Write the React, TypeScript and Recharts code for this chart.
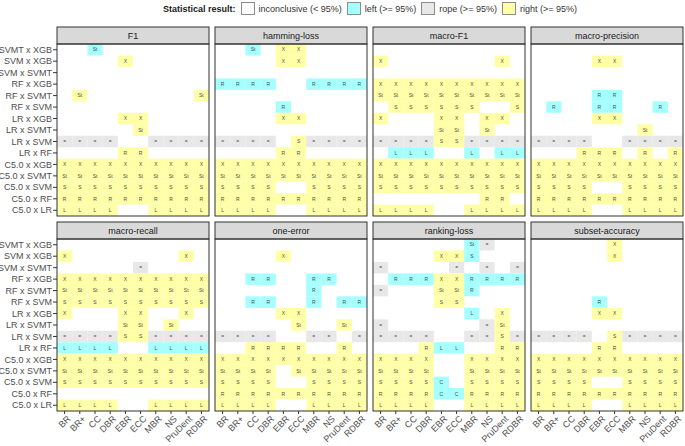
import React from 'react';
import { ScatterChart, Scatter, XAxis, YAxis } from 'recharts';

const methods = ['BR', 'BR+', 'CC', 'DBR', 'EBR', 'ECC', 'MBR', 'NS', 'PruDent', 'RDBR'];
const comparisons = [
  'SVMT x XGB', 'SVM x XGB', 'SVM x SVMT', 'RF x XGB', 'RF x SVMT', 'RF x SVM',
  'LR x XGB', 'LR x SVMT', 'LR x SVM', 'LR x RF',
  'C5.0 x XGB', 'C5.0 x SVMT', 'C5.0 x SVM', 'C5.0 x RF', 'C5.0 x LR',
];
const metricNames = ['F1', 'hamming-loss', 'macro-F1', 'macro-precision', 'macro-recall', 'one-error', 'ranking-loss', 'subset-accuracy'];

// '.' inconclusive, 'l' left better, '=' rope, 'r' right better (one string per comparison, one char per method)
const f1Results = [
  '..l.......', '....r.....', '..........', '..........', '.r.......r', '..........',
  '....rr....', '.....r....', '====..====', '....rr....',
  'rrrrrrrrrr', 'rrrrrrrrrr', 'rrrrrrrrrr', 'rrrrrrrrrr', 'rrrr..rrrr',
];
const hammingLossResults = [
  '..l.rr....', '....rr....', '..........', 'llll..llll', '..........', '....l.....',
  '....rr....', '..........', '====.r====', '....rr....',
  'rrrrrrrrrr', 'rrrrrrrrrr', 'rrrr..rrrr', 'rrrrrrrrrr', 'rrrr..rrrr',
];
const macroF1Results = [
  '..........', 'r.......r.', '..........', 'rrrrrrrrrr', 'rrrrrrrrrr', '.rrrrrr..r',
  'r...rr.rr.', '....rr.r..', '====rr====', '.lll..l.ll',
  'rrrrrrrrrr', 'rrrrrrrrrr', 'rrrrrrrrrr', '.......rr.', 'rrrr..rrrr',
];
const macroPrecisionResults = [
  '..........', '....rr....', '..........', '..........', '....ll....', '.l..ll..l.',
  '....rr....', '.......r..', '====..====', '...rrr.r.r',
  'rrrrrrrrrr', 'rrrrrrrrrr', 'rrrr..rrrr', 'rrrrrrrrrr', 'rrrr..rrrr',
];
const macroRecallResults = [
  '..........', 'r.......r.', '.....=....', 'rrrrrrrrrr', 'rrrrrrrrrr', 'rrrrrrrrrr',
  'r...rr..r.', '....rr.r..', '====rr====', 'llll..llll',
  'rrrrrrrrrr', 'rrrrrrrrrr', 'rrrrrrrrrr', '..........', 'rrrr..rrrr',
];
const oneErrorResults = [
  '..........', '....r.....', '..........', '..ll..ll..', '......l...', '..ll..l.ll',
  '....rr....', '.....r..r.', '====..==.=', '..rrrr..r.',
  'rrrrrrrrrr', 'rrrr.rrrrr', 'rrrr..rrrr', 'rrrrrrrrrr', 'rrrr..rrrr',
];
const rankingLossResults = [
  '......l=..', '....rrl...', '=....=.=.=', '.lllrrllll', '=...rrl...', '....rr....',
  '......l.r.', '=......=r.', '====..==r=', '...rll..rr',
  'rrrr..rrrr', 'rrrr..rrrr', 'rrrrl.rrrr', 'rrrrllrrrr', 'rrrr..rrrr',
];
const subsetAccuracyResults = [
  '.....r....', '.....r....', '..........', '..........', '..........', '....l.....',
  '....rr....', '..........', '====.r====', '....rr....',
  'rrrrrrrrrr', 'rrrrrrrrrr', 'rrrr..rrrr', 'rrrrrrrrrr', 'rrrr..rrrr',
];
const facetResults = [
  f1Results, hammingLossResults, macroF1Results, macroPrecisionResults,
  macroRecallResults, oneErrorResults, rankingLossResults, subsetAccuracyResults,
];

const modelAbbrev: Record<string, string> = { XGB: 'X', SVMT: 'St', SVM: 'S', RF: 'R', LR: 'L', 'C5.0': 'C' };
const resultByCode: Record<string, string> = { '.': 'inconclusive', l: 'left', '=': 'rope', r: 'right' };
const resultKeys = ['inconclusive', 'left', 'rope', 'right'];
const legendLabels = ['inconclusive (< 95%)', 'left (>= 95%)', 'rope (>= 95%)', 'right (>= 95%)'];
const resultColors: Record<string, string> = {
  inconclusive: '#FFFFFF', left: '#A6FFFF', rope: '#E8E8E8', right: '#FFFFA8',
};

const FONT = '"Liberation Sans", Arial, Helvetica, sans-serif';
const PANEL_LEFT = [57, 215, 373, 531];
const PANEL_TOP = [44, 239];
const PANEL_W = 152;
const PANEL_H = 172;
const STRIP_H = 17;
const X_AXIS_H = 35;

type Pt = { method: string; comparison: string; result: string; label: string };

function buildPoints(grid: string[]): Pt[] {
  const pts: Pt[] = [];
  comparisons.forEach((comp, r) => {
    const [leftModel, rightModel] = comp.split(' x ');
    methods.forEach((m, c) => {
      const code = grid[r][c];
      const result = resultByCode[code];
      const label = code === 'l' ? modelAbbrev[leftModel] : code === 'r' ? modelAbbrev[rightModel] : code === '=' ? '=' : '';
      pts.push({ method: m, comparison: comp, result, label });
    });
  });
  return pts;
}

const YTick = (p: any) => (
  <text x={p.x} y={p.y} dy="0.35em" textAnchor="end" fontSize={9} fill="#4D4D4D" fontFamily={FONT}>
    {p.payload.value}
  </text>
);

const XTick = (p: any) => (
  <text
    x={p.x + 2}
    y={p.y}
    dy="0.71em"
    textAnchor="end"
    fontSize={9}
    fill="#4D4D4D"
    fontFamily={FONT}
    transform={`rotate(-45, ${p.x + 2}, ${p.y})`}
  >
    {p.payload.value}
  </text>
);

function Facet({ index }: { index: number }) {
  const col = index % 4;
  const row = Math.floor(index / 4);
  const showY = col === 0;
  const showX = row === 1;
  const left = showY ? 0 : PANEL_LEFT[col];
  const top = PANEL_TOP[row];
  const width = showY ? PANEL_LEFT[0] + PANEL_W : PANEL_W;
  const height = PANEL_H + (showX ? X_AXIS_H : 0);
  const cellW = PANEL_W / methods.length;
  const cellH = PANEL_H / comparisons.length;
  const points = buildPoints(facetResults[index]);

  const shape = (p: any) => {
    const { cx, cy, payload } = p;
    if (cx == null || cy == null) return <g />;
    const res = payload.result;
    return (
      <g>
        {res !== 'inconclusive' && (
          <rect x={cx - cellW / 2} y={cy - cellH / 2} width={cellW} height={cellH} fill={resultColors[res]} />
        )}
        {payload.label && (
          <text x={cx} y={cy} dy="0.35em" textAnchor="middle" fontSize={5} fill="#4D4D4D" fontFamily={FONT}>
            {payload.label}
          </text>
        )}
      </g>
    );
  };

  return (
    <div style={{ position: 'absolute', left, top }}>
      <ScatterChart width={width} height={height} margin={{ top: 0, right: 0, bottom: 0, left: 0 }}>
        <XAxis
          type="category"
          dataKey="method"
          allowDuplicatedCategory={false}
          hide={!showX}
          height={X_AXIS_H}
          interval={0}
          tickSize={3}
          tickMargin={1}
          axisLine={false}
          tickLine={{ stroke: '#333333' }}
          tick={XTick}
        />
        <YAxis
          type="category"
          dataKey="comparison"
          allowDuplicatedCategory={false}
          reversed
          hide={!showY}
          width={PANEL_LEFT[0]}
          interval={0}
          tickSize={4}
          tickMargin={1}
          axisLine={false}
          tickLine={{ stroke: '#333333' }}
          tick={YTick}
        />
        <Scatter data={points} shape={shape} isAnimationActive={false} />
      </ScatterChart>
    </div>
  );
}

export default function App() {
  return (
    <div style={{ position: 'absolute', left: 0, top: 0, width: 685, height: 446, background: '#FFFFFF', fontFamily: FONT, overflow: 'hidden' }}>
      {/* legend */}
      <div style={{ position: 'absolute', left: 163, top: 2, height: 13, display: 'flex', alignItems: 'center', fontSize: 9, color: '#1A1A1A', whiteSpace: 'nowrap' }}>
        <span style={{ fontWeight: 'bold', marginRight: 5 }}>Statistical result:</span>
        {resultKeys.map((k, i) => (
          <React.Fragment key={k}>
            <span style={{ display: 'inline-block', width: 14, height: 13, boxSizing: 'border-box', border: '0.6px solid #8C8C8C', background: resultColors[k], marginRight: 4 }} />
            <span style={{ marginRight: 5, color: '#333333' }}>{legendLabels[i]}</span>
          </React.Fragment>
        ))}
      </div>
      {metricNames.map((_, i) => <Facet key={i} index={i} />)}
      <svg width={685} height={446} style={{ position: 'absolute', left: 0, top: 0, pointerEvents: 'none' }}>
        {metricNames.map((name, i) => {
          const col = i % 4;
          const row = Math.floor(i / 4);
          const x = PANEL_LEFT[col];
          const y = PANEL_TOP[row];
          return (
            <g key={name}>
              <rect x={x} y={y - STRIP_H} width={PANEL_W} height={STRIP_H} fill="#D9D9D9" stroke="#333333" strokeWidth={1} />
              <text x={x + PANEL_W / 2} y={y - STRIP_H / 2} dy="0.35em" textAnchor="middle" fontSize={9} fill="#1A1A1A" fontFamily={FONT}>{name}</text>
              <rect x={x} y={y} width={PANEL_W} height={PANEL_H} fill="none" stroke="#333333" strokeWidth={1} />
            </g>
          );
        })}
      </svg>
    </div>
  );
}
